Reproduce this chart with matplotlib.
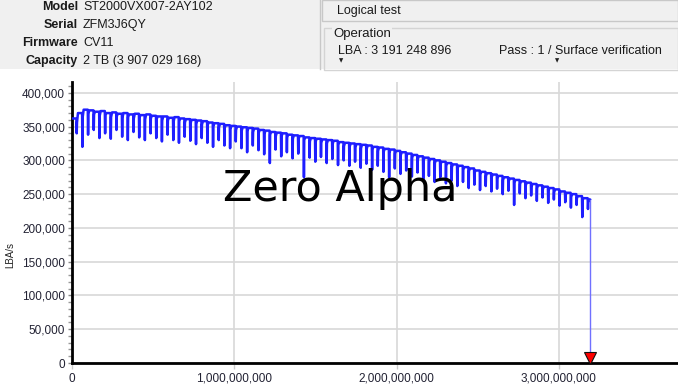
import numpy as np
import matplotlib.pyplot as plt
from matplotlib.patches import Rectangle
from matplotlib.ticker import MultipleLocator, FuncFormatter

W, H = 678, 387

# drive info
info_labels = ["Model", "Serial", "Firmware", "Capacity"]
info_values = ["ST2000VX007-2AY102", "ZFM3J6QY", "CV11", "2 TB (3 907 029 168)"]

# read speed, one plateau + one dip per 35M LBA block (thousands of LBA/s)
block_lba = 35e6
end_lba = 3191248896
tops = [362, 370, 375, 374, 372, 373, 370, 371, 369, 370,
        368, 369, 367, 368, 366, 365, 365, 363, 364, 362,
        361, 360, 359, 358, 356, 355, 354, 352, 351, 350,
        349, 348, 347, 345, 344, 342, 341, 340, 338, 337,
        336, 334, 333, 332, 331, 330, 329, 327, 326, 325,
        324, 323, 322, 320, 319, 317, 316, 314, 312, 310,
        308, 306, 304, 302, 300, 298, 296, 294, 292, 290,
        288, 285, 283, 281, 279, 277, 275, 273, 271, 269,
        267, 265, 263, 261, 259, 257, 254, 252, 250, 247,
        244]
dips = [340, 320, 338, 345, 333, 340, 332, 345, 335, 330,
        342, 334, 330, 340, 333, 328, 338, 330, 326, 335,
        329, 324, 333, 326, 320, 330, 322, 318, 328, 318,
        312, 322, 315, 309, 296, 316, 306, 312, 303, 310,
        275, 304, 298, 305, 296, 302, 293, 300, 292, 298,
        289, 295, 286, 292, 283, 275, 288, 280, 285, 276,
        282, 272, 277, 268, 275, 266, 270, 262, 268, 259,
        264, 256, 262, 254, 258, 250, 255, 234, 251, 244,
        248, 240, 245, 237, 242, 233, 238, 230, 234, 216,
        228]
end_speed = 242


def px(x, y):
    return x / W, 1 - y / H


def build_curve():
    xs, ys = [0.0], [tops[0] * 1000]
    for i, (t, d) in enumerate(zip(tops, dips)):
        s = i * block_lba
        xs += [s + 0.05 * block_lba, s + 0.78 * block_lba,
               s + 0.83 * block_lba, s + 0.88 * block_lba]
        ys += [t * 1000, t * 1000, d * 1000, (t - 6) * 1000]
    xs.append(end_lba)
    ys.append(end_speed * 1000)
    return np.array(xs), np.array(ys)


fig = plt.figure(figsize=(W / 100, H / 100), dpi=100)
fig.patch.set_facecolor('white')

# header panel
fig.patches.append(Rectangle(px(0, 69), 1, 69 / H, transform=fig.transFigure,
                             facecolor='#f0f0f0', edgecolor='none', zorder=0))
fig.patches.append(Rectangle(px(322, 21), (678 - 322) / W, 21 / H, transform=fig.transFigure,
                             facecolor='#f0f0f0', edgecolor='#c8c8c8', lw=1, zorder=1))
fig.patches.append(Rectangle(px(324, 70), (678 - 324) / W, 42 / H, transform=fig.transFigure,
                             facecolor='none', edgecolor='#d4d4d4', lw=1, zorder=1))
fig.lines.append(plt.Line2D([320 / W, 320 / W], [1 - 0 / H, 1 - 69 / H],
                            transform=fig.transFigure, color='#c8c8c8', lw=1))

hfont = dict(family='Liberation Sans', fontsize=9, color='#1a1a1a')
for k, (lab, val) in enumerate(zip(info_labels, info_values)):
    y = 7 + k * 18
    fig.text(*px(78, y), lab, ha='right', va='center', fontweight='bold', **hfont)
    fig.text(*px(83, y), val, ha='left', va='center', **hfont)

fig.text(*px(337, 11), "Logical test", ha='left', va='center', **hfont)
fig.text(*px(333, 34), "Operation", ha='left', va='center',
         family='Liberation Sans', fontsize=9.5, color='#1a1a1a',
         bbox=dict(facecolor='#f0f0f0', edgecolor='none', pad=0.5))
fig.text(*px(338, 51), "LBA : 3 191 248 896", ha='left', va='center', **hfont)
fig.text(*px(499, 51), "Pass : 1 / Surface verification", ha='left', va='center', **hfont)
for tx in (341, 557):
    fig.text(*px(tx, 61), "\u25bc", ha='center', va='center', fontsize=4, color='#202020')

# chart
x0, x1, y0, y1 = 72, 678, 82, 363
ax = fig.add_axes([x0 / W, 1 - y1 / H, (x1 - x0) / W, (y1 - y0) / H])
px_per_lba = 162.3 / 1e9
ax.set_xlim(0, (x1 - x0) / px_per_lba)
ax.set_ylim(0, 416000)

xs, ys = build_curve()
ax.plot(xs, ys, color='#1e1eff', lw=1.8, zorder=3)
ax.plot([end_lba, end_lba], [end_speed * 1000, 0], color='#7070ff', lw=1, zorder=3)
ax.plot([end_lba], [7500], marker='v', markersize=9, markerfacecolor='#ff0000',
        markeredgecolor='#111111', markeredgewidth=0.8, zorder=5, clip_on=False)

ax.yaxis.set_major_locator(MultipleLocator(50000))
ax.yaxis.set_minor_locator(MultipleLocator(10000))
ax.xaxis.set_major_locator(MultipleLocator(1e9))
ax.yaxis.set_major_formatter(FuncFormatter(lambda v, p: f"{int(v):,}"))
ax.xaxis.set_major_formatter(FuncFormatter(lambda v, p: f"{int(v):,}"))
ax.grid(True, which='major', color='#d8d8d8', lw=1.2, zorder=0)
ax.set_axisbelow(True)

for side in ('top', 'right'):
    ax.spines[side].set_visible(False)
for side in ('left', 'bottom'):
    ax.spines[side].set_linewidth(2)
    ax.spines[side].set_color('#000000')

ax.tick_params(axis='y', which='major', length=3, width=1, color='#888888',
               labelsize=8.5, labelcolor='#222233', pad=2)
ax.tick_params(axis='y', which='minor', length=3, width=1, color='#999999')
ax.tick_params(axis='x', which='major', length=4, width=1, color='#cccccc',
               labelsize=8.5, labelcolor='#222233', pad=3)
for lab in ax.get_xticklabels() + ax.get_yticklabels():
    lab.set_family('Liberation Sans')

fig.text(*px(10, 255), "LBA/s", rotation=90, ha='center', va='center',
         family='Liberation Sans', fontsize=7, color='#222222')

# watermark
fig.text(*px(340, 189), "Zero Alpha", ha='center', va='center',
         family='DejaVu Sans', fontsize=31, color='black', zorder=10)

fig.savefig('out.png', dpi=100, facecolor='white')
